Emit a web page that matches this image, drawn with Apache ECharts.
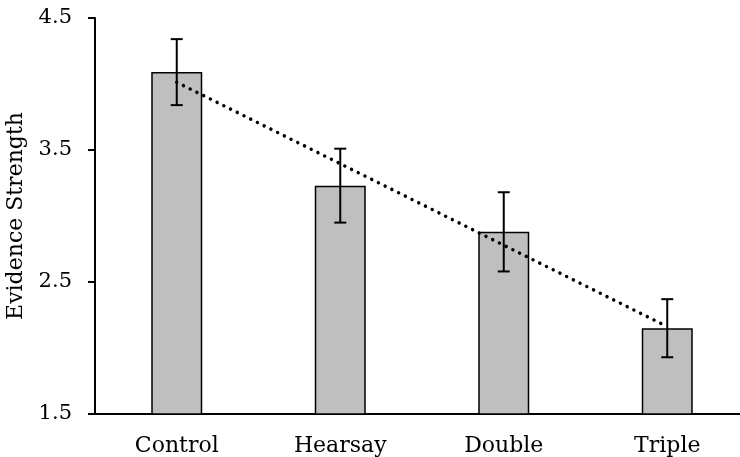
<!DOCTYPE html>
<html>
<head>
<meta charset="utf-8">
<script src="https://cdn.jsdelivr.net/npm/echarts@6/dist/echarts.min.js"></script>
<style>html,body{margin:0;padding:0;background:#fff}#c{width:740px;height:457px}</style>
</head>
<body>
<div id="c"></div>
<script>
const categories = ['Control', 'Hearsay', 'Double', 'Triple'];
const means = [4.09, 3.23, 2.88, 2.15];
const errors = [0.25, 0.28, 0.30, 0.22];
const yTicks = [1.5, 2.5, 3.5, 4.5];

// linear trend line fitted to the means
const n = means.length;
const xm = (n - 1) / 2;
const ym = means.reduce((a, b) => a + b, 0) / n;
let sxy = 0, sxx = 0;
means.forEach((v, i) => { sxy += (i - xm) * (v - ym); sxx += (i - xm) * (i - xm); });
const slope = sxy / sxx;
const trend = means.map((v, i) => ym + slope * (i - xm));

const FONT = 'DejaVu Serif';
const chart = echarts.init(document.getElementById('c'), null, {renderer: 'canvas'});
chart.setOption({
  animation: false,
  backgroundColor: '#fff',
  grid: {left: 95, top: 18, height: 396, width: 654, containLabel: false, outerBoundsMode: 'none'},
  xAxis: {
    type: 'category',
    data: categories,
    axisLine: {lineStyle: {color: '#000', width: 2}},
    axisTick: {show: false},
    axisLabel: {color: '#000', fontFamily: FONT, fontSize: 22, margin: 21}
  },
  yAxis: {
    type: 'value',
    min: 1.5,
    max: 4.5,
    name: 'Evidence Strength',
    nameLocation: 'middle',
    nameGap: 64,
    nameTextStyle: {color: '#000', fontFamily: FONT, fontSize: 22},
    axisLine: {show: true, lineStyle: {color: '#000', width: 2}},
    axisTick: {show: true, length: 7, customValues: yTicks, lineStyle: {color: '#000', width: 2}},
    axisLabel: {color: '#000', fontFamily: FONT, fontSize: 21, margin: 23, customValues: yTicks,
      formatter: v => v.toFixed(1)},
    splitLine: {show: false}
  },
  series: [
    {
      type: 'bar',
      data: means,
      barWidth: 51,
      itemStyle: {color: '#bfbfbf', borderColor: '#000', borderWidth: 1.5},
      z: 2
    },
    {
      type: 'line',
      data: trend,
      showSymbol: false,
      symbol: 'none',
      lineStyle: {color: '#000', width: 3.5, type: [0.01, 7.5], cap: 'round'},
      z: 3
    },
    {
      type: 'custom',
      data: means.map((m, i) => [i, m - errors[i], m + errors[i]]),
      renderItem: function (params, api) {
        const x = api.value(0);
        const lo = api.coord([x, api.value(1)]);
        const hi = api.coord([x, api.value(2)]);
        const hw = 6;
        const style = {stroke: '#000', lineWidth: 2, fill: null};
        return {
          type: 'group',
          children: [
            {type: 'line', shape: {x1: hi[0], y1: hi[1], x2: lo[0], y2: lo[1]}, style: style},
            {type: 'line', shape: {x1: hi[0] - hw, y1: hi[1], x2: hi[0] + hw, y2: hi[1]}, style: style},
            {type: 'line', shape: {x1: lo[0] - hw, y1: lo[1], x2: lo[0] + hw, y2: lo[1]}, style: style}
          ]
        };
      },
      z: 4
    }
  ]
});
</script>
</body>
</html>
